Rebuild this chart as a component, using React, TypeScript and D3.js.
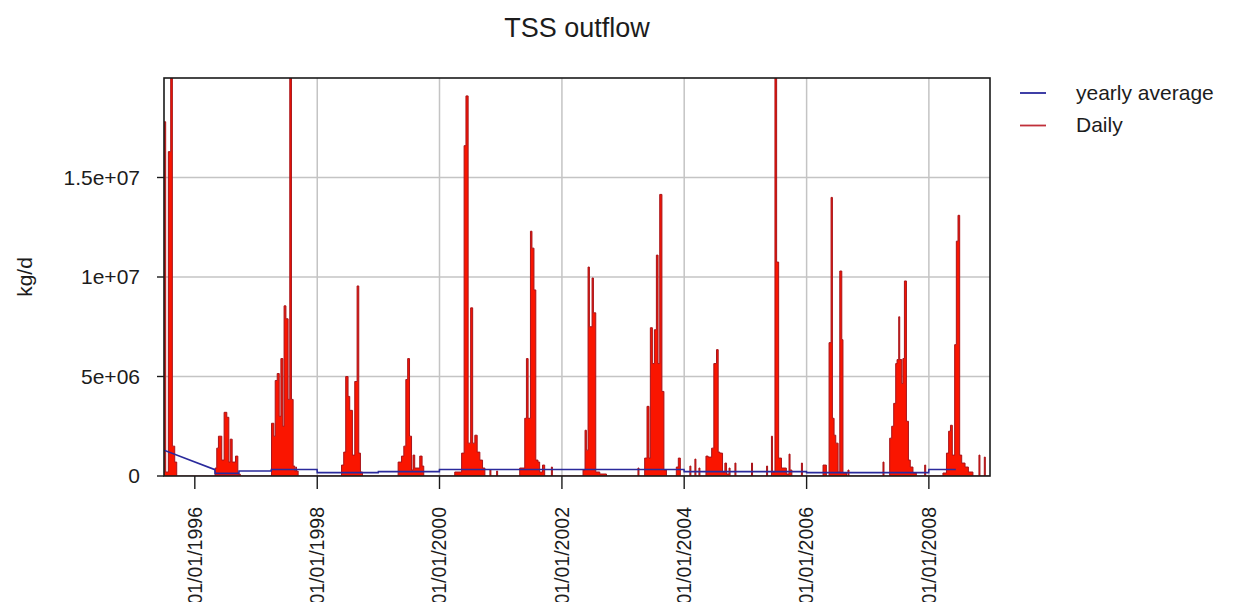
import React from "react";
import * as d3 from "d3";

// ---- data -------------------------------------------------------------
const title = "TSS outflow";
const yLabel = "kg/d";
const legendLabels = ["yearly average", "Daily"];

const yTickValues = [0, 5e6, 1e7, 1.5e7];
const yTickLabels = ["0", "5e+06", "1e+07", "1.5e+07"];

const xTickDates = ["1996-01-01", "1998-01-01", "2000-01-01", "2002-01-01", "2004-01-01", "2006-01-01", "2008-01-01"];
const xTickLabels = ["01/01/1996", "01/01/1998", "01/01/2000", "01/01/2002", "01/01/2004", "01/01/2006", "01/01/2008"];
const xGridDates = ["1998-01-01", "2000-01-01", "2002-01-01", "2004-01-01", "2006-01-01", "2008-01-01"];

const period = ["1995-07-01", "2008-12-31"];

// daily TSS load (kg/d), each reading holds until the next one
const daily1995: [string, number][] = [
  ["1995-07-01", 1.78e7], ["1995-07-11", 0.2e6], ["1995-07-27", 1.63e7], ["1995-08-10", 2.3e7],
  ["1995-08-20", 1.5e6], ["1995-09-03", 0.7e6], ["1995-09-15", 0],
];
const daily1996: [string, number][] = [
  ["1996-05-01", 0.4e6], ["1996-05-11", 1.4e6], ["1996-05-21", 2.0e6], ["1996-06-10", 0.8e6],
  ["1996-06-24", 3.2e6], ["1996-07-10", 2.95e6], ["1996-07-22", 0.7e6], ["1996-07-30", 1.85e6],
  ["1996-08-11", 0.7e6], ["1996-08-31", 1.0e6], ["1996-09-14", 0.1e6], ["1996-09-28", 0],
];
const daily1997: [string, number][] = [
  ["1997-04-03", 2.65e6], ["1997-04-17", 2.0e6], ["1997-04-25", 4.8e6], ["1997-05-07", 5.15e6],
  ["1997-05-19", 3.0e6], ["1997-05-29", 5.9e6], ["1997-06-10", 2.5e6], ["1997-06-17", 8.55e6],
  ["1997-06-28", 7.9e6], ["1997-07-11", 3.85e6], ["1997-07-21", 2.3e7], ["1997-07-31", 3.85e6],
  ["1997-08-10", 0.5e6], ["1997-08-20", 0.25e6], ["1997-08-26", 0.45e6], ["1997-08-30", 0.25e6],
  ["1997-09-09", 0],
];
const daily1998: [string, number][] = [
  ["1998-05-26", 0.55e6], ["1998-06-08", 1.2e6], ["1998-06-20", 5.0e6], ["1998-07-04", 4.0e6],
  ["1998-07-14", 3.3e6], ["1998-07-30", 1.05e6], ["1998-08-13", 4.75e6], ["1998-08-27", 9.55e6],
  ["1998-09-06", 1.15e6], ["1998-09-16", 0.2e6], ["1998-09-28", 0],
];
const daily1999: [string, number][] = [
  ["1999-04-29", 0.7e6], ["1999-05-19", 1.0e6], ["1999-06-02", 1.5e6], ["1999-06-14", 4.85e6],
  ["1999-06-25", 5.9e6], ["1999-07-06", 2.0e6], ["1999-07-18", 0.3e6], ["1999-07-27", 1.05e6],
  ["1999-08-06", 0.4e6], ["1999-09-05", 1.0e6], ["1999-09-19", 0.5e6], ["1999-09-29", 0],
];
const daily2000: [string, number][] = [
  ["2000-04-01", 0.2e6], ["2000-05-12", 1.15e6], ["2000-05-27", 1.66e7], ["2000-06-07", 1.91e7],
  ["2000-06-20", 1.65e6], ["2000-07-05", 8.45e6], ["2000-07-17", 1.65e6], ["2000-07-30", 2.05e6],
  ["2000-08-13", 1.2e6], ["2000-08-29", 0.8e6], ["2000-09-14", 0.4e6], ["2000-09-28", 0],
  ["2000-10-28", 0.3e6], ["2000-11-03", 0], ["2000-12-07", 0.25e6], ["2000-12-13", 0],
];
const daily2001: [string, number][] = [
  ["2001-04-24", 0.4e6], ["2001-05-24", 2.9e6], ["2001-06-03", 5.9e6], ["2001-06-13", 2.9e6],
  ["2001-06-27", 1.23e7], ["2001-07-06", 1.145e7], ["2001-07-18", 9.35e6], ["2001-07-29", 0.8e6],
  ["2001-08-11", 0.7e6], ["2001-08-21", 0.2e6], ["2001-09-07", 0.55e6], ["2001-09-20", 0],
  ["2001-10-30", 0.45e6], ["2001-11-05", 0],
];
const daily2002: [string, number][] = [
  ["2002-05-07", 0.3e6], ["2002-05-19", 2.3e6], ["2002-05-27", 1.3e6], ["2002-06-06", 1.05e7],
  ["2002-06-14", 7.5e6], ["2002-06-30", 9.95e6], ["2002-07-08", 8.2e6], ["2002-07-22", 0.2e6],
  ["2002-08-15", 0.1e6], ["2002-09-24", 0],
];
const daily2003: [string, number][] = [
  ["2003-03-31", 0.4e6], ["2003-04-06", 0], ["2003-05-10", 0.9e6], ["2003-05-24", 3.5e6],
  ["2003-06-05", 0.9e6], ["2003-06-13", 7.45e6], ["2003-06-25", 5.65e6], ["2003-07-07", 7.35e6],
  ["2003-07-19", 1.11e7], ["2003-07-29", 5.65e6], ["2003-08-08", 1.415e7], ["2003-08-21", 4.25e6],
  ["2003-09-02", 0.3e6], ["2003-09-17", 0], ["2003-11-15", 0.45e6], ["2003-11-27", 0.9e6],
  ["2003-12-09", 0],
];
const daily2004: [string, number][] = [
  ["2004-02-04", 0.5e6], ["2004-02-10", 0], ["2004-03-05", 0.85e6], ["2004-03-11", 0],
  ["2004-03-29", 0.4e6], ["2004-04-04", 0], ["2004-05-10", 1.0e6], ["2004-05-23", 0.95e6],
  ["2004-06-13", 1.4e6], ["2004-06-26", 5.65e6], ["2004-07-12", 6.35e6], ["2004-07-22", 1.2e6],
  ["2004-08-01", 1.15e6], ["2004-08-17", 0.2e6], ["2004-08-31", 0.65e6], ["2004-09-10", 0.1e6],
  ["2004-09-25", 0.4e6], ["2004-10-01", 0], ["2004-10-30", 0.65e6], ["2004-11-05", 0],
];
const daily2005: [string, number][] = [
  ["2005-02-06", 0.65e6], ["2005-02-12", 0], ["2005-05-07", 0.5e6], ["2005-05-13", 0],
  ["2005-06-05", 2.0e6], ["2005-06-11", 0.2e6], ["2005-06-26", 2.3e7], ["2005-07-06", 1.075e7],
  ["2005-07-18", 0.9e6], ["2005-08-04", 0.4e6], ["2005-09-02", 0.1e6], ["2005-09-18", 1.1e6],
  ["2005-09-24", 0.3e6], ["2005-10-05", 0], ["2005-12-01", 0.65e6], ["2005-12-07", 0],
];
const daily2006: [string, number][] = [
  ["2006-04-09", 0.55e6], ["2006-04-29", 0], ["2006-05-15", 6.7e6], ["2006-05-27", 1.4e7],
  ["2006-06-04", 2.9e6], ["2006-06-14", 2.05e6], ["2006-06-24", 1.65e6], ["2006-07-08", 0.2e6],
  ["2006-07-18", 1.03e7], ["2006-07-30", 6.85e6], ["2006-08-06", 0.15e6], ["2006-08-27", 0],
  ["2006-09-05", 0.3e6], ["2006-09-11", 0],
];
const daily2007: [string, number][] = [
  ["2007-04-02", 0.7e6], ["2007-04-08", 0], ["2007-05-12", 1.9e6], ["2007-05-24", 2.5e6],
  ["2007-06-05", 3.65e6], ["2007-06-17", 5.65e6], ["2007-06-25", 5.85e6], ["2007-07-05", 8.0e6],
  ["2007-07-11", 5.85e6], ["2007-07-23", 4.65e6], ["2007-07-30", 5.9e6], ["2007-08-08", 9.8e6],
  ["2007-08-20", 2.75e6], ["2007-09-01", 0.8e6], ["2007-09-12", 0.45e6], ["2007-09-28", 0.15e6],
  ["2007-10-18", 0], ["2007-12-07", 0.55e6], ["2007-12-13", 0],
];
const daily2008: [string, number][] = [
  ["2008-03-25", 0.15e6], ["2008-04-15", 1.15e6], ["2008-04-28", 2.25e6], ["2008-05-09", 2.55e6],
  ["2008-05-20", 1.05e6], ["2008-06-03", 6.6e6], ["2008-06-13", 1.18e7], ["2008-06-23", 1.31e7],
  ["2008-07-03", 1.05e6], ["2008-07-15", 0.65e6], ["2008-08-04", 0.45e6], ["2008-08-24", 0.2e6],
  ["2008-09-20", 0], ["2008-10-26", 1.05e6], ["2008-11-01", 0], ["2008-11-27", 0.95e6],
  ["2008-12-03", 0], ["2008-12-31", 0],
];

// yearly average load (kg/d)
const yearlyAverage: [string, number][] = [
  ["1995-07-01", 1.3e6], ["1996-04-30", 0.32e6], ["1996-05-01", 0.13e6], ["1996-09-20", 0.13e6],
  ["1996-09-21", 0.25e6], ["1997-04-01", 0.25e6], ["1997-04-02", 0.33e6], ["1997-12-31", 0.33e6],
  ["1998-01-01", 0.17e6], ["1998-12-31", 0.17e6], ["1999-01-01", 0.22e6], ["1999-12-31", 0.22e6],
  ["2000-01-01", 0.33e6], ["2003-12-31", 0.33e6], ["2004-01-01", 0.22e6], ["2005-12-31", 0.22e6],
  ["2006-01-01", 0.17e6], ["2007-12-31", 0.17e6], ["2008-01-01", 0.33e6], ["2008-06-10", 0.33e6],
];

// ---- chart ------------------------------------------------------------
const W = 1234;
const H = 602;
const plot = { left: 164, right: 990, top: 78, bottom: 476 };
const FONT = "'Liberation Sans', Arial, Helvetica, sans-serif";
const TEXT = "#1c1c1c";

const parse = d3.utcParse("%Y-%m-%d");

export default function App() {
  const x = d3.scaleUtc().domain(period.map((d) => parse(d) as Date)).range([plot.left, plot.right]);
  const y = d3.scaleLinear().domain([0, 2.0e7]).range([plot.bottom, plot.top]);

  const dailyAll = [
    ...daily1995, ...daily1996, ...daily1997, ...daily1998, ...daily1999, ...daily2000, ...daily2001,
    ...daily2002, ...daily2003, ...daily2004, ...daily2005, ...daily2006, ...daily2007, ...daily2008,
  ].map(([d, v]) => ({ date: parse(d) as Date, value: v }));

  const avg = yearlyAverage.map(([d, v]) => ({ date: parse(d) as Date, value: v }));

  const area = d3
    .area<{ date: Date; value: number }>()
    .curve(d3.curveStepAfter)
    .x((d) => x(d.date))
    .y0(plot.bottom)
    .y1((d) => y(d.value));
  const edge = d3
    .line<{ date: Date; value: number }>()
    .curve(d3.curveStepAfter)
    .x((d) => x(d.date))
    .y((d) => y(d.value));
  const avgLine = d3
    .line<{ date: Date; value: number }>()
    .x((d) => x(d.date))
    .y((d) => y(d.value));

  const cx = (plot.left + plot.right) / 2;
  const cy = (plot.top + plot.bottom) / 2;

  return (
    <svg
      width={W}
      height={H}
      viewBox={`0 0 ${W} ${H}`}
      style={{ position: "absolute", left: 0, top: 0, background: "#fff" }}
      fontFamily={FONT}
    >
      <rect x={0} y={0} width={W} height={H} fill="#fff" />
      <defs>
        <clipPath id="plot-clip">
          <rect x={plot.left} y={plot.top} width={plot.right - plot.left} height={plot.bottom - plot.top} />
        </clipPath>
      </defs>

      {/* grid */}
      <g stroke="#c4c4c4" strokeWidth={1.5}>
        {yTickValues.slice(1).map((v) => (
          <line key={`gy${v}`} x1={plot.left} x2={plot.right} y1={y(v)} y2={y(v)} />
        ))}
        {xGridDates.map((d) => (
          <line key={`gx${d}`} x1={x(parse(d) as Date)} x2={x(parse(d) as Date)} y1={plot.top} y2={plot.bottom} />
        ))}
      </g>

      {/* daily series and yearly average */}
      <g clipPath="url(#plot-clip)">
        <path d={area(dailyAll) ?? ""} fill="#fa1500" stroke="none" />
        <path d={edge(dailyAll) ?? ""} fill="none" stroke="#a8141a" strokeWidth={1} />
        <path d={avgLine(avg) ?? ""} fill="none" stroke="#2a2a9c" strokeWidth={1.6} />
      </g>

      {/* frame */}
      <rect
        x={plot.left}
        y={plot.top}
        width={plot.right - plot.left}
        height={plot.bottom - plot.top}
        fill="none"
        stroke="#1a1a1a"
        strokeWidth={1.6}
      />

      {/* y axis */}
      <g>
        {yTickValues.map((v, i) => (
          <g key={`yt${v}`}>
            <line x1={plot.left - 7} x2={plot.left} y1={y(v)} y2={y(v)} stroke="#1a1a1a" strokeWidth={1.4} />
            <text x={140} y={y(v)} dy="0.35em" textAnchor="end" fontSize={21} fill={TEXT}>
              {yTickLabels[i]}
            </text>
          </g>
        ))}
        <text
          transform={`translate(32, ${cy}) rotate(-90)`}
          textAnchor="middle"
          fontSize={21}
          fill={TEXT}
        >
          {yLabel}
        </text>
      </g>

      {/* x axis: rotated date labels run off the bottom edge */}
      <g>
        {xTickDates.map((d, i) => {
          const px = x(parse(d) as Date);
          return (
            <g key={`xt${d}`}>
              <line x1={px} x2={px} y1={plot.bottom} y2={plot.bottom + 13} stroke="#1a1a1a" strokeWidth={1.4} />
              <text
                transform={`translate(${px}, 507) rotate(-90)`}
                dy="0.35em"
                textAnchor="end"
                fontSize={19.5}
                fill={TEXT}
              >
                {xTickLabels[i]}
              </text>
            </g>
          );
        })}
      </g>

      {/* title */}
      <text x={cx} y={37} textAnchor="middle" fontSize={27} fill={TEXT}>
        {title}
      </text>

      {/* legend */}
      <g>
        <line x1={1020} x2={1046} y1={93} y2={93} stroke="#2a2a9c" strokeWidth={1.8} />
        <text x={1076} y={93} dy="0.33em" fontSize={21} fill={TEXT}>
          {legendLabels[0]}
        </text>
        <line x1={1020} x2={1046} y1={125.5} y2={125.5} stroke="#c0303a" strokeWidth={1.8} />
        <text x={1076} y={125.5} dy="0.33em" fontSize={21} fill={TEXT}>
          {legendLabels[1]}
        </text>
      </g>
    </svg>
  );
}
